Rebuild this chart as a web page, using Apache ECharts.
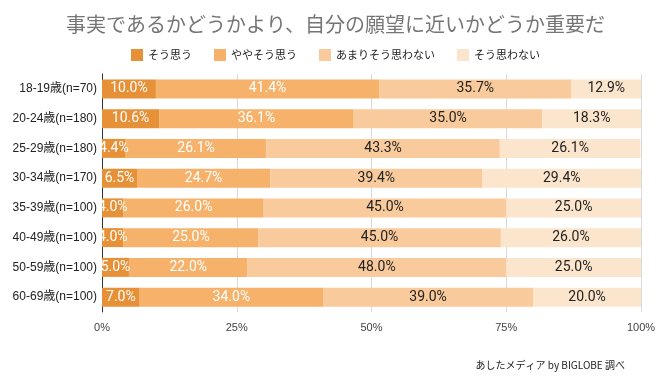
<!DOCTYPE html>
<html><head><meta charset="utf-8">
<script src="https://cdn.jsdelivr.net/npm/echarts@6/dist/echarts.min.js"></script>
<style>html,body{margin:0;padding:0;background:#fff}#c{width:671px;height:392px}</style>
</head><body><div id="c"></div>
<script>
const categories = ['18-19歳(n=70)','20-24歳(n=180)','25-29歳(n=180)','30-34歳(n=170)','35-39歳(n=100)','40-49歳(n=100)','50-59歳(n=100)','60-69歳(n=100)'];
const seriesNames = ['そう思う','ややそう思う','あまりそう思わない','そう思わない'];
const s1 = [10.0,10.6,4.4,6.5,4.0,4.0,5.0,7.0];
const s2 = [41.4,36.1,26.1,24.7,26.0,25.0,22.0,34.0];
const s3 = [35.7,35.0,43.3,39.4,45.0,45.0,48.0,39.0];
const s4 = [12.9,18.3,26.1,29.4,25.0,26.0,25.0,20.0];
const colors = ['#e69138','#f6b26b','#f9cb9c','#fce5cd'];
const labelColors = ['#ffffff','#ffffff','#222222','#222222'];
const font = '"Noto Sans CJK JP", "Noto Sans", sans-serif';
const latin = '"Liberation Sans", "Noto Sans CJK JP", sans-serif';
const num = 'Roboto, "Noto Sans", sans-serif';
const all = [s1,s2,s3,s4];
const chart = echarts.init(document.getElementById('c'));
chart.setOption({
  animation:false,
  textStyle:{fontFamily:font},
  title:{text:'事実であるかどうかより、自分の願望に近いかどうか重要だ',left:'center',top:9,
    textStyle:{fontFamily:font,fontSize:20,fontWeight:'normal',color:'#757575'}},
  legend:{top:44,left:'center',itemWidth:12,itemHeight:12,itemGap:22,icon:'rect',
    textStyle:{fontFamily:font,fontSize:11,color:'#222'}},
  graphic:[{type:'text',right:46,top:360,style:{text:'あしたメディア by BIGLOBE 調べ',font:'10px '+font,fill:'#222'}}],
  grid:{left:102,right:30,top:74,bottom:80,containLabel:false},
  xAxis:{type:'value',min:0,max:100,interval:25,
    axisLabel:{formatter:'{value}%',color:'#444',fontSize:11,fontFamily:latin,margin:10},
    splitLine:{lineStyle:{color:'#d9d9d9'}},axisLine:{show:false},axisTick:{show:false}},
  yAxis:{type:'category',data:categories,inverse:true,
    axisLine:{lineStyle:{color:'#333'}},axisTick:{show:false},
    axisLabel:{color:'#222',fontSize:12,fontFamily:latin,margin:5}},
  series: all.map((d,i)=>({
    name:seriesNames[i],type:'bar',stack:'t',data:d,barWidth:19,
    itemStyle:{color:colors[i]},
    label:{show:true,position:'inside',formatter:p=>p.value.toFixed(1)+'%',
      color:labelColors[i],fontSize:14,fontFamily:num}
  }))
});
</script></body></html>
